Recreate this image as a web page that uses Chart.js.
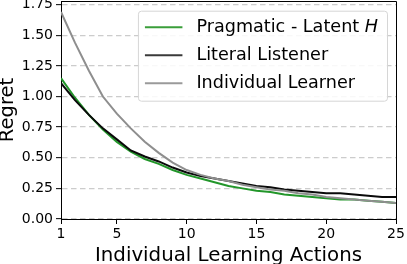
<!DOCTYPE html>
<html>
<head>
<meta charset="utf-8">
<script src="https://cdn.jsdelivr.net/npm/chart.js@4/dist/chart.umd.min.js"></script>
<style>
  html, body { margin: 0; padding: 0; background: #fff; }
  canvas { display: block; }
</style>
</head>
<body>
<canvas id="regret" width="407" height="264"></canvas>
<script>
// values
var actions = [1, 2, 3, 4, 5, 6, 7, 8, 9, 10, 11, 12, 13, 14, 15, 16, 17, 18, 19, 20, 21, 22, 23, 24, 25];
var pragmatic = [1.15, 0.99, 0.85, 0.73, 0.63, 0.55, 0.49, 0.45, 0.40, 0.36, 0.33, 0.30, 0.27, 0.25, 0.23, 0.22, 0.20, 0.19, 0.18, 0.17, 0.16, 0.16, 0.15, 0.14, 0.13];
var literal = [1.11, 0.97, 0.85, 0.74, 0.65, 0.56, 0.51, 0.47, 0.42, 0.38, 0.35, 0.33, 0.31, 0.29, 0.27, 0.26, 0.24, 0.23, 0.22, 0.21, 0.21, 0.20, 0.19, 0.18, 0.18];
var individual = [1.69, 1.44, 1.21, 1.00, 0.86, 0.74, 0.63, 0.54, 0.46, 0.40, 0.36, 0.33, 0.31, 0.28, 0.26, 0.24, 0.23, 0.21, 0.20, 0.18, 0.17, 0.16, 0.15, 0.14, 0.13];
var xTicks = [1, 5, 10, 15, 20, 25];
var yTicks = [0, 0.25, 0.5, 0.75, 1.0, 1.25, 1.5, 1.75];

var FONT = "'DejaVu Sans', sans-serif";

function toPoints(ys) {
  return ys.map(function (y, i) { return { x: actions[i], y: y }; });
}

function fixedTicks(list) {
  return function (scale) {
    scale.ticks = list.map(function (v) { return { value: v }; });
  };
}

// keep the plot box where matplotlib put it, no extra room for overhanging labels
function fitTo(size) {
  return function (scale) {
    if (scale.isHorizontal()) scale.height = size;
    else scale.width = size;
    scale.paddingTop = 0;
    scale.paddingBottom = 0;
    scale.paddingLeft = 0;
    scale.paddingRight = 0;
  };
}

// matplotlib style legend box in the upper right + right/top spines
var boxLegend = {
  id: 'boxLegend',
  afterDraw: function (chart) {
    var ctx = chart.ctx;
    var area = chart.chartArea;
    ctx.save();

    ctx.strokeStyle = '#000';
    ctx.lineWidth = 1;
    ctx.beginPath();
    ctx.moveTo(area.left, area.top + 0.5);
    ctx.lineTo(area.right + 0.5, area.top + 0.5);
    ctx.lineTo(area.right + 0.5, area.bottom);
    ctx.stroke();

    var items = chart.data.datasets.slice().sort(function (a, b) { return a.legendRank - b.legendRank; });
    var fontSize = 17.6;
    ctx.font = fontSize + 'px ' + FONT;
    var widest = 0;
    items.forEach(function (ds) {
      var w = ctx.measureText(ds.label).width;
      if (ds.italicTail) {
        ctx.font = 'italic ' + fontSize + 'px ' + FONT;
        w += ctx.measureText(ds.italicTail).width;
        ctx.font = fontSize + 'px ' + FONT;
      }
      widest = Math.max(widest, w);
    });

    var handle = 37.5, gap = 14, padL = 7, padR = 9;
    var w = padL + handle + gap + widest + padR;
    var h = 90;
    var x0 = area.right - 9 - w;
    var y0 = area.top + 9.7;

    ctx.beginPath();
    ctx.roundRect(x0 + 0.5, y0 + 0.5, w, h, 3);
    ctx.fillStyle = 'rgba(255,255,255,0.85)';
    ctx.fill();
    ctx.strokeStyle = '#d6d6d6';
    ctx.stroke();

    items.forEach(function (ds, i) {
      var y = y0 + 16.5 + i * 28;
      ctx.strokeStyle = ds.legendColor;
      ctx.lineWidth = 2;
      ctx.beginPath();
      ctx.moveTo(x0 + padL, y);
      ctx.lineTo(x0 + padL + handle, y);
      ctx.stroke();

      ctx.fillStyle = '#000';
      ctx.textBaseline = 'middle';
      ctx.textAlign = 'left';
      ctx.font = fontSize + 'px ' + FONT;
      var tx = x0 + padL + handle + gap;
      ctx.fillText(ds.label, tx, y);
      if (ds.italicTail) {
        var tw = ctx.measureText(ds.label).width;
        ctx.font = 'italic ' + fontSize + 'px ' + FONT;
        ctx.fillText(ds.italicTail, tx + tw, y);
      }
    });
    ctx.restore();
  }
};

new Chart(document.getElementById('regret'), {
  type: 'line',
  data: {
    datasets: [
      {
        label: 'Pragmatic - Latent ',
        italicTail: 'H',
        legendRank: 0,
        legendColor: '#3a9e3a',
        data: toPoints(pragmatic),
        borderColor: '#22962a',
        order: 3
      },
      {
        label: 'Literal Listener',
        legendRank: 1,
        legendColor: '#3a3a3a',
        data: toPoints(literal),
        borderColor: '#0a0a0a',
        order: 2
      },
      {
        label: 'Individual Learner',
        legendRank: 2,
        legendColor: '#9a9a9a',
        data: toPoints(individual),
        borderColor: '#8e8e8e',
        order: 1
      }
    ]
  },
  options: {
    responsive: false,
    animation: false,
    layout: { padding: { top: 1, right: 11, left: 0, bottom: 0 } },
    elements: {
      line: { borderWidth: 2, tension: 0, fill: false },
      point: { radius: 0 }
    },
    plugins: {
      legend: { display: false },
      tooltip: { enabled: false }
    },
    scales: {
      x: {
        type: 'linear',
        min: 1,
        max: 25,
        afterBuildTicks: fixedTicks(xTicks),
        afterFit: fitTo(45),
        grid: { drawOnChartArea: false, tickLength: 5, tickColor: '#000' },
        border: { color: '#000', width: 1 },
        ticks: {
          color: '#000',
          padding: 2,
          maxRotation: 0,
          font: { family: FONT, size: 14 }
        },
        title: {
          display: true,
          text: 'Individual Learning Actions',
          color: '#000',
          font: { family: FONT, size: 19.8, lineHeight: 1 },
          padding: { top: 0, bottom: -2 }
        }
      },
      y: {
        type: 'linear',
        min: 0,
        max: 1.78,
        afterBuildTicks: fixedTicks(yTicks),
        afterFit: fitTo(61),
        grid: {
          color: '#cccccc',
          lineWidth: 1.3,
          tickLength: 5,
          tickColor: '#000',
          tickBorderDash: [],
          tickWidth: 1
        },
        border: { color: '#000', width: 1, dash: [5.5, 3.5] },
        ticks: {
          color: '#000',
          padding: 3,
          font: { family: FONT, size: 14 },
          callback: function (v) { return v.toFixed(2); }
        },
        title: {
          display: true,
          text: 'Regret',
          color: '#000',
          font: { family: FONT, size: 19.5, lineHeight: 1 },
          padding: { top: -2, bottom: 0 }
        }
      }
    }
  },
  plugins: [boxLegend]
});
</script>
</body>
</html>
